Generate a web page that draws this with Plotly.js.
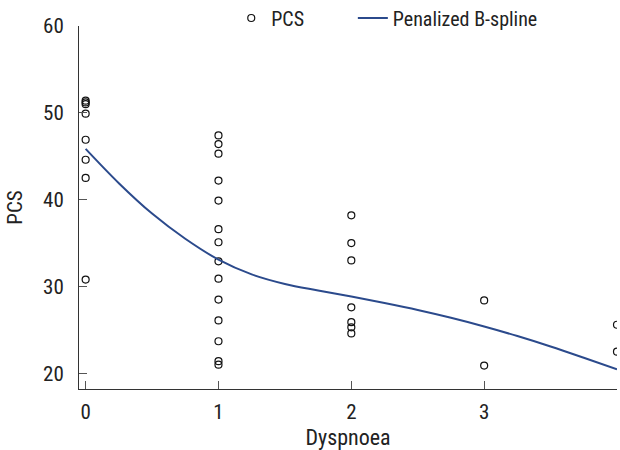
<!DOCTYPE html>
<html>
<head>
<meta charset="utf-8">
<script src="https://cdn.plot.ly/plotly-3.0.1.min.js"></script>
<style>
  html, body { margin: 0; padding: 0; background: #ffffff; }
  #chart { width: 620px; height: 450px; }
</style>
</head>
<body>
<div id="chart"></div>
<script>
// Observed PCS scores by dyspnoea grade
const pcsX = [
  0, 0, 0, 0, 0, 0, 0, 0,
  1, 1, 1, 1, 1, 1, 1, 1, 1, 1, 1, 1, 1, 1,
  2, 2, 2, 2, 2, 2, 2,
  3, 3,
  4, 4
];
const pcsY = [
  51.4, 51.2, 51.0, 49.9, 46.9, 44.6, 42.5, 30.8,
  47.4, 46.4, 45.3, 42.2, 39.9, 36.6, 35.1, 32.9, 30.9, 28.5, 26.1, 23.7, 21.4, 21.0,
  38.2, 35.0, 33.0, 27.6, 25.9, 25.3, 24.6,
  28.4, 20.9,
  25.6, 22.5
];

// Penalized B-spline fit
const splineX = [0, 0.25, 0.5, 0.75, 1, 1.25, 1.5, 1.75, 2, 2.25, 2.5, 2.75, 3, 3.25, 3.5, 3.75, 4];
const splineY = [45.85, 41.9, 38.4, 35.5, 33.1, 31.4, 30.3, 29.55, 28.85, 28.1, 27.3, 26.4, 25.4, 24.3, 23.1, 21.8, 20.46];

const xTicks = [0, 1, 2, 3, 4];
const yTicks = [20, 30, 40, 50, 60];

const FONT = '"Roboto Condensed", "Noto Sans Condensed", "Liberation Sans Narrow", "DejaVu Sans Condensed", sans-serif';

const traces = [
  {
    x: pcsX, y: pcsY,
    type: 'scatter', mode: 'markers', name: 'PCS', legend: 'legend',
    marker: { symbol: 'circle-open', size: 7, color: '#111111', line: { width: 1.2, color: '#111111' } }
  },
  {
    x: splineX, y: splineY,
    type: 'scatter', mode: 'lines', name: 'Penalized B-spline', legend: 'legend2',
    line: { color: '#2b4a8c', width: 2, shape: 'spline', smoothing: 1 }
  }
];

const axisCommon = {
  showline: true, linecolor: '#333333', linewidth: 1,
  ticks: 'inside', ticklen: 8, tickcolor: '#555555', tickwidth: 1,
  showgrid: false, zeroline: false,
  tickfont: { family: FONT, size: 21, color: '#222222' },
  mirror: false
};

const legendCommon = {
  orientation: 'h', xanchor: 'left', y: 1.022, yanchor: 'middle',
  font: { family: FONT, size: 20, color: '#222222' },
  bgcolor: 'rgba(0,0,0,0)', borderwidth: 0
};

const layout = {
  width: 620, height: 450,
  margin: { l: 79, r: 3, t: 26, b: 61, pad: 0, autoexpand: false },
  paper_bgcolor: '#ffffff', plot_bgcolor: '#ffffff',
  font: { family: FONT, color: '#222222' },
  showlegend: true,
  legend: Object.assign({}, legendCommon, { x: 0.283 }),
  legend2: Object.assign({}, legendCommon, { x: 0.509 }),
  xaxis: Object.assign({}, axisCommon, {
    range: [-0.05, 4.0],
    tickvals: xTicks, ticktext: xTicks.map(String),
    ticklabelstandoff: 4,
    title: { text: 'Dyspnoea', font: { family: FONT, size: 22, color: '#222222' }, standoff: 6 }
  }),
  yaxis: Object.assign({}, axisCommon, {
    range: [18.2, 60],
    tickvals: yTicks, ticktext: yTicks.map(String),
    ticklabelstandoff: 10,
    title: { text: 'PCS', font: { family: FONT, size: 21, color: '#222222' }, standoff: 14 }
  })
};

Plotly.newPlot('chart', traces, layout, { displayModeBar: false, staticPlot: true });
</script>
</body>
</html>
